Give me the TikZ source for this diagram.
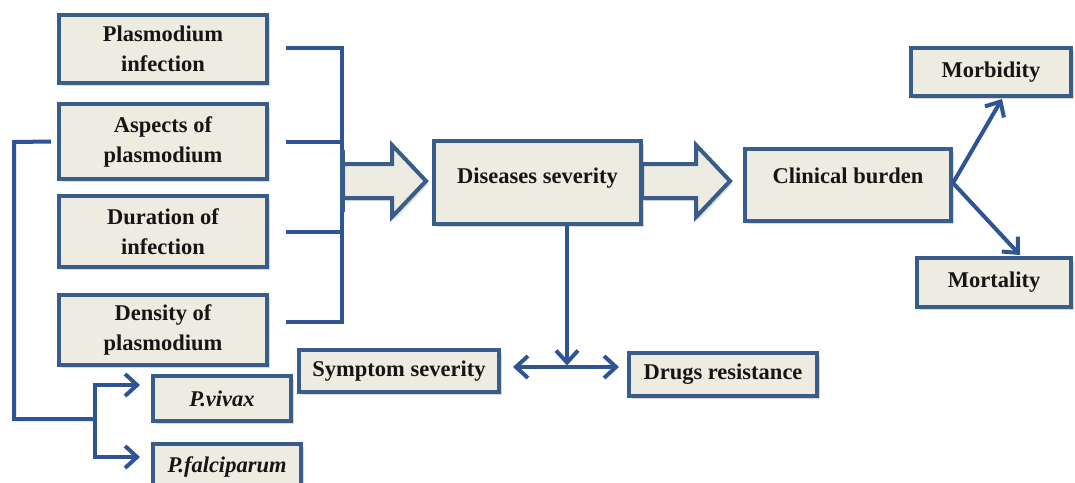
\documentclass[tikz,border=0pt]{standalone}
\usepackage{fontspec}
\setmainfont{Liberation Serif}
\usetikzlibrary{arrows.meta,shadows}
\definecolor{boxfill}{HTML}{EEECE1}
\definecolor{boxline}{HTML}{385D8A}
\definecolor{conncol}{HTML}{2F5496}
\definecolor{txt}{HTML}{151515}
\begin{document}
\begin{tikzpicture}[x=1pt,y=-1pt,
  box/.style={draw=boxline, line width=4pt, fill=boxfill,
    drop shadow={shadow xshift=2.5pt,shadow yshift=-3pt,opacity=0.3},
    font=\fontsize{22.5}{30}\selectfont\bfseries, text=txt,
    align=center, inner sep=0pt},
  conn/.style={draw=conncol, line width=4pt, line join=miter},
  tip/.style={-{Straight Barb[length=12pt,width=22pt]}},
  hollow/.style={draw=boxline, line width=4pt, fill=boxfill, line join=miter,
    drop shadow={shadow xshift=2.5pt,shadow yshift=-3pt,opacity=0.25}}
]
\clip (0,0) rectangle (1075,482);
\fill[white] (0,0) rectangle (1075,482);

% left column
\node[box, minimum width=208pt, minimum height=68pt] (pinf) at (163,49) {Plasmodium\\infection};
\node[box, minimum width=208pt, minimum height=75pt] (aspects) at (163,141.5) {Aspects of\\plasmodium};
\node[box, minimum width=208pt, minimum height=71pt] (duration) at (163,231.5) {Duration of\\infection};
\node[box, minimum width=208pt, minimum height=70pt] (density) at (163,330) {Density of\\plasmodium};
\node[box, minimum width=138pt, minimum height=45pt] (vivax) at (222,398.5) {\itshape P.vivax};
\node[box, minimum width=148pt, minimum height=45pt] (falc) at (227,466.5) {\itshape P.falciparum};

% middle
\node[box, minimum width=207pt, text height=42pt, text depth=41pt] (disease) at (537.5,182.5) {Diseases severity};
\node[box, minimum width=200pt, minimum height=42pt] (symptom) at (399,371) {Symptom severity};
\node[box, minimum width=188pt, minimum height=43pt] (drugs) at (723,374.5) {Drugs resistance};

% right
\node[box, minimum width=206pt, text height=34pt, text depth=38pt] (clinical) at (848,185) {Clinical burden};
\node[box, minimum width=160pt, minimum height=48pt] (morbidity) at (991,72) {Morbidity};
\node[box, minimum width=154pt, minimum height=49pt] (mortality) at (994,282.5) {Mortality};

% bracket on the right of the left column
\coordinate (b1) at (342,48);
\coordinate (b4) at (342,322);
\draw[conn] ([xshift=17pt,yshift=1pt]pinf.east) -- (b1) -- (b4) -- ([xshift=17pt,yshift=8pt]density.east);
\draw[conn] ([xshift=17pt]aspects.east) -- (aspects.east -| b1);
\draw[conn] ([xshift=17pt]duration.east) -- (duration.east -| b1);

% hollow arrows
\coordinate (t1) at (426,181);
\draw[hollow] (t1) -- ++(-34,-36) -- ++(0,19) -- ++(-49,0) -- ++(0,34) -- ++(49,0) -- ++(0,19) -- cycle;
\coordinate (t2) at (730,181);
\draw[hollow] (t2) -- ++(-34,-36) -- ++(0,19) -- ++(-54,0) -- ++(0,34) -- ++(54,0) -- ++(0,19) -- cycle;
\draw[draw=boxline, line width=5pt] (342,150) -- (342,212);

% left connector to the species
\coordinate (lc) at (14,142);
\coordinate (lb) at (14,419);
\coordinate (fork) at (95,419);
\coordinate (vt) at (95,385);
\coordinate (fb) at (95,457);
\draw[conn] ([xshift=-6pt]aspects.west) -- (lc) -- (lb) -- (fork);
\draw[conn,tip] (fork) -- (vt) -- ([xshift=-11pt,yshift=13.5pt]vivax.west);
\draw[conn,tip] (fork) -- (fb) -- ([xshift=-11pt,yshift=9.5pt]falc.west);

% disease severity split
\coordinate (split) at (567,367);
\coordinate (sl) at (513,367);
\coordinate (sr) at (619,367);
\draw[conn,tip] ([xshift=29.5pt]disease.south) -- ([yshift=1.5pt]split);
\draw[conn,{Straight Barb[length=12pt,width=22pt]}-{Straight Barb[length=12pt,width=22pt]}] (sl) -- (sr);

% clinical burden outcomes
\draw[conn,tip] ([yshift=2pt]clinical.east) -- ([xshift=11pt,yshift=-1pt]morbidity.south);
\draw[conn,tip] ([yshift=2pt]clinical.east) -- ([xshift=26pt,yshift=1pt]mortality.north);
\end{tikzpicture}
\end{document}
